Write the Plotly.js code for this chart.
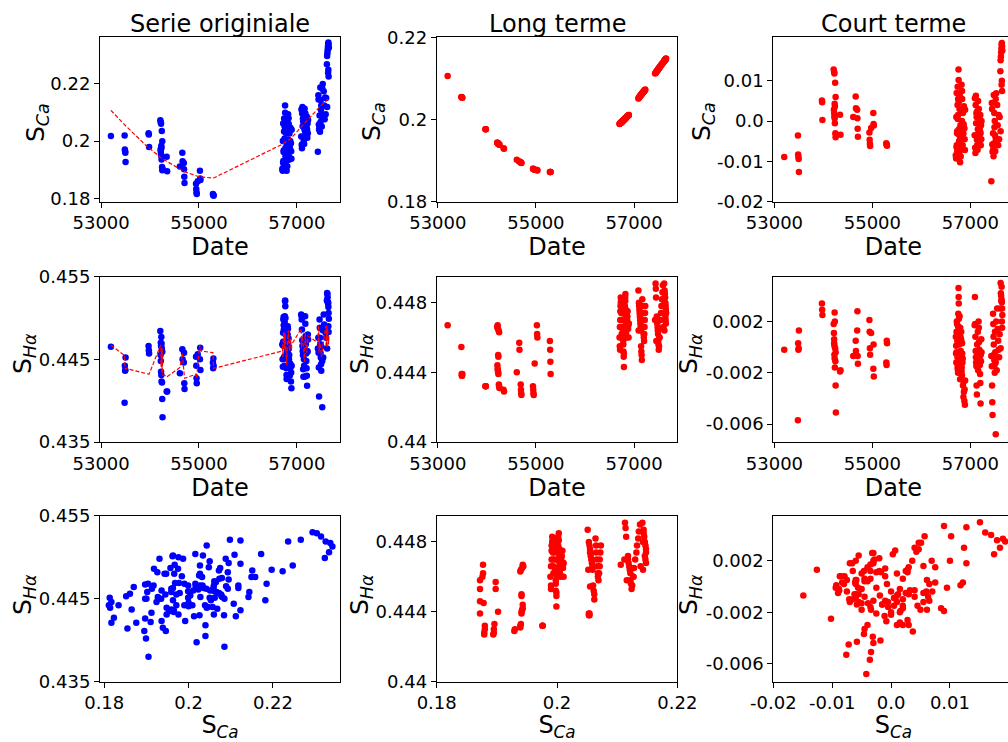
<!DOCTYPE html>
<html><head><meta charset="utf-8">
<script src="https://cdn.plot.ly/plotly-3.0.1.min.js"></script>
<style>html,body{margin:0;padding:0;overflow:hidden;background:#fff}#chart{width:1030px;height:742px}</style>
</head><body><div id="chart"></div>
<script>
// Observation dates (MJD)
const date = [53200,
53480,53485,53490,53495,53500,
53970,53975,53980,
54210,54220,54225,54240,54250,54230,54235,54215,54220,54225,54230,54235,54245,54250,54255,54350,54340,
54610,54660,54665,54690,54695,54700,54705,
54940,54945,54950,54955,54975,55020,55025,55030,
55285,55290,55295,55300,
56705,56710,56715,56720,56725,56730,56735,56740,56745,56750,56755,56760,56762,56765,56768,56770,56775,56780,56785,56790,56795,56800,56805,56810,56815,56820,56825,56830,56835,56840,56850,56860,56870,56880,56890,56895,56712,56722,56732,56742,56752,56772,56782,56792,56812,56822,56832,56845,56865,56885,
57090,57095,57100,57105,57110,57115,57120,57125,57130,57135,57140,57145,57150,57155,57160,57170,57175,57180,57185,57190,57195,57200,57205,57210,57215,57220,57225,57230,
57430,57440,57445,57450,57455,57520,57465,57470,57475,57480,57485,57490,57495,57500,57505,57510,57520,57530,57540,57550,57560,57570,57580,57590,57615,57620,57625,57630,57635,57640,57645,57650,57655,57640,57645,57650,57600,57620];

// Original series
const caOrig = [0.2017,
0.2019,0.1971,0.1965,0.1959,0.1927,
0.2027,0.2023,0.1979,
0.2072,0.2065,0.2060,0.2035,0.1999,0.1984,0.1977,0.1971,0.1963,0.1954,0.1948,0.1936,0.1910,0.1899,0.1905,0.1895,0.1946,
0.1912,0.1959,0.1930,0.1924,0.1902,0.1876,0.1855,
0.1852,0.1834,0.1823,0.1817,0.1861,0.1897,0.1870,0.1865,
0.1817,0.1814,0.1813,0.1811,
0.1904,0.1900,0.2000,0.1926,0.1931,0.1962,0.1918,0.2033,0.1999,0.2009,0.1963,0.2123,0.2098,0.2043,0.1976,0.1947,0.1917,0.2028,0.1948,0.2060,0.1959,0.1990,0.1913,0.1936,0.2027,0.1957,0.1968,0.2004,0.2059,0.1935,0.2026,0.1976,0.2046,0.1992,0.1939,0.2039,0.1897,0.2061,0.1967,0.2078,0.2050,0.2062,0.1943,0.1897,0.1966,0.2093,0.2079,0.1945,0.2000,0.1965,
0.2016,0.2109,0.1987,0.1975,0.2095,0.2118,0.2051,0.2077,0.2068,0.2013,0.1999,0.2085,0.1990,0.2042,0.2112,0.2034,0.2095,0.2025,0.2016,0.2072,0.2053,0.2043,0.2084,0.2040,0.2011,0.2061,0.2027,0.2073,
0.1963,0.2158,0.2144,0.2057,0.2040,0.2085,0.2088,0.2048,0.2032,0.2185,0.2066,0.2142,0.2107,0.2123,0.2089,0.2050,0.2182,0.2197,0.2080,0.2172,0.2123,0.2075,0.2151,0.2093,0.2266,0.2294,0.2304,0.2314,0.2325,0.2336,0.2341,0.2333,0.2323,0.2236,0.2247,0.2223,0.2149,0.2118];

const haOrig = [0.4465,
0.43975,0.4442,0.4436,0.4437,0.4452,
0.4466,0.4461,0.4457,
0.4484,0.4470,0.4466,0.4463,0.4459,0.4477,0.4469,0.4455,0.4448,0.4435,0.4431,0.4423,0.4422,0.4402,0.4380,0.4411,0.4411,
0.4433,0.4462,0.4450,0.4446,0.4458,0.4421,0.4414,
0.4453,0.4442,0.4427,0.4421,0.4456,0.4450,0.4464,0.4437,
0.4446,0.4439,0.4451,0.4442,
0.4468,0.4450,0.4441,0.4482,0.4498,0.4501,0.4486,0.4466,0.4451,0.4442,0.4502,0.4520,0.4521,0.4514,0.4500,0.4480,0.4466,0.4452,0.4439,0.4431,0.4458,0.4468,0.4462,0.4460,0.4490,0.4487,0.4469,0.4454,0.4463,0.4450,0.4430,0.4431,0.4440,0.4423,0.4415,0.4442,0.4467,0.4471,0.4491,0.4453,0.4495,0.4451,0.4480,0.4426,0.4480,0.4462,0.4475,0.4455,0.4445,0.4434,
0.4504,0.4503,0.4498,0.4486,0.4473,0.4466,0.4460,0.4455,0.4438,0.4429,0.4466,0.4450,0.4442,0.4462,0.4429,0.4502,0.4493,0.4478,0.4468,0.4457,0.4448,0.4439,0.4430,0.4418,0.4460,0.4459,0.4480,0.4474,
0.4463,0.4476,0.4458,0.4440,0.4405,0.4392,0.4498,0.4488,0.4476,0.4468,0.4458,0.4452,0.4444,0.4436,0.4465,0.4451,0.4448,0.4485,0.4452,0.4504,0.4492,0.4487,0.4484,0.4482,0.4521,0.4530,0.4529,0.4525,0.4519,0.4517,0.4513,0.4506,0.4499,0.4519,0.4490,0.4483,0.4476,0.4463];

// Long-term component
const caLong = [0.2106,
0.2055,0.2054,0.2054,0.2053,0.2053,
0.1976,0.1976,0.1976,
0.1944,0.1943,0.1942,0.1940,0.1939,0.1941,0.1941,0.1943,0.1943,0.1942,0.1941,0.1941,0.1940,0.1939,0.1939,0.1929,0.1930,
0.1902,0.1898,0.1898,0.1896,0.1895,0.1895,0.1894,
0.1880,0.1880,0.1879,0.1879,0.1878,0.1877,0.1877,0.1876,
0.1872,0.1872,0.1872,0.1872,
0.1989,0.1990,0.1990,0.1991,0.1991,0.1992,0.1993,0.1993,0.1994,0.1994,0.1995,0.1995,0.1996,0.1996,0.1996,0.1997,0.1997,0.1998,0.1998,0.1999,0.1999,0.2000,0.2001,0.2001,0.2002,0.2002,0.2003,0.2004,0.2004,0.2005,0.2006,0.2007,0.2009,0.2010,0.2011,0.2011,0.1990,0.1991,0.1992,0.1993,0.1995,0.1997,0.1998,0.1999,0.2001,0.2003,0.2004,0.2005,0.2008,0.2010,
0.2051,0.2052,0.2053,0.2054,0.2055,0.2055,0.2056,0.2057,0.2058,0.2059,0.2059,0.2060,0.2061,0.2062,0.2062,0.2064,0.2065,0.2065,0.2066,0.2067,0.2068,0.2068,0.2069,0.2070,0.2071,0.2071,0.2072,0.2073,
0.2112,0.2113,0.2114,0.2115,0.2116,0.2127,0.2118,0.2118,0.2119,0.2120,0.2121,0.2122,0.2122,0.2123,0.2124,0.2125,0.2127,0.2128,0.2130,0.2132,0.2133,0.2135,0.2136,0.2138,0.2142,0.2143,0.2144,0.2144,0.2145,0.2146,0.2147,0.2148,0.2148,0.2146,0.2147,0.2148,0.2139,0.2143];

const haLong = [0.4467,
0.44545,0.4439,0.4438,0.4438,0.4439,
0.4432,0.4432,0.4432,
0.4466,0.4467,0.4465,0.4464,0.4463,0.4450,0.4449,0.4444,0.4442,0.4441,0.4440,0.4439,0.4433,0.4432,0.4431,0.4429,0.4430,
0.4440,0.4457,0.4453,0.4433,0.4430,0.4428,0.4427,
0.4432,0.4430,0.4428,0.4427,0.4445,0.4467,0.4462,0.4460,
0.4458,0.4453,0.4446,0.4439,
0.4460,0.4455,0.4453,0.4470,0.4478,0.4483,0.4481,0.4474,0.4466,0.4462,0.4476,0.4474,0.4482,0.4480,0.4478,0.4470,0.4464,0.4458,0.4452,0.4449,0.4443,0.4460,0.4465,0.4470,0.4478,0.4483,0.4485,0.4476,0.4468,0.4462,0.4460,0.4470,0.4475,0.4465,0.4460,0.4468,0.4466,0.4475,0.4480,0.4470,0.4479,0.4462,0.4456,0.4451,0.4474,0.4481,0.4472,0.4464,0.4472,0.4467,
0.4487,0.4464,0.4480,0.4478,0.4476,0.4474,0.4472,0.4470,0.4468,0.4466,0.4464,0.4455,0.4452,0.4450,0.4447,0.4482,0.4478,0.4474,0.4470,0.4466,0.4462,0.4460,0.4458,0.4462,0.4466,0.4470,0.4474,0.4478,
0.4470,0.4491,0.4488,0.4483,0.4458,0.4460,0.4472,0.4470,0.4468,0.4466,0.4464,0.4462,0.4458,0.4456,0.4453,0.4455,0.4460,0.4465,0.4470,0.4474,0.4478,0.4482,0.4486,0.4490,0.4491,0.4480,0.4487,0.4485,0.4483,0.4480,0.4478,0.4476,0.4474,0.4472,0.4470,0.4468,0.4466,0.4464];

// Short-term component
const caShort = [-0.0089,
-0.0036,-0.0083,-0.0089,-0.0094,-0.0126,
0.0051,0.0047,0.0003,
0.0128,0.0122,0.0118,0.0095,0.0060,0.0043,0.0036,0.0028,0.0020,0.0012,0.0007,-0.0005,-0.0030,-0.0040,-0.0034,-0.0034,0.0016,
0.0010,0.0061,0.0032,0.0028,0.0007,-0.0019,-0.0039,
-0.0028,-0.0046,-0.0056,-0.0062,-0.0017,0.0020,-0.0007,-0.0011,
-0.0055,-0.0058,-0.0059,-0.0061,
-0.0085,-0.0090,0.0010,-0.0065,-0.0060,-0.0030,-0.0075,0.0040,0.0005,0.0015,-0.0032,0.0128,0.0102,0.0047,-0.0020,-0.0050,-0.0080,0.0030,-0.0050,0.0061,-0.0040,-0.0010,-0.0088,-0.0065,0.0025,-0.0045,-0.0035,0.0000,0.0055,-0.0070,0.0020,-0.0031,0.0037,-0.0018,-0.0072,0.0028,-0.0093,0.0070,-0.0025,0.0085,0.0055,0.0065,-0.0055,-0.0102,-0.0035,0.0090,0.0075,-0.0060,-0.0008,-0.0045,
-0.0035,0.0057,-0.0066,-0.0079,0.0040,0.0063,-0.0005,0.0020,0.0010,-0.0046,-0.0060,0.0025,-0.0071,-0.0020,0.0050,-0.0030,0.0030,-0.0040,-0.0050,0.0005,-0.0015,-0.0025,0.0015,-0.0030,-0.0060,-0.0010,-0.0045,0.0000,
-0.0149,0.0045,0.0030,-0.0058,-0.0076,-0.0042,-0.0030,-0.0070,-0.0087,0.0065,-0.0055,0.0020,-0.0015,0.0000,-0.0035,-0.0075,0.0055,0.0069,-0.0050,0.0040,-0.0010,-0.0060,0.0015,-0.0045,0.0124,0.0151,0.0160,0.0170,0.0180,0.0190,0.0194,0.0185,0.0175,0.0090,0.0100,0.0075,0.0010,-0.0025];

const haShort = [-0.0002,
-0.0057,0.0003,-0.0002,-0.0001,0.0013,
0.0034,0.0029,0.0025,
0.0018,0.0003,0.0001,-0.0001,-0.0004,0.0027,0.0020,0.0011,0.0006,-0.0006,-0.0009,-0.0016,-0.0011,-0.0030,-0.0051,-0.0018,-0.0019,
-0.0007,0.0005,-0.0003,0.0013,0.0028,-0.0007,-0.0013,
0.0021,0.0012,-0.0001,-0.0006,0.0011,-0.0017,0.0002,-0.0023,
-0.0012,-0.0014,0.0005,0.0003,
0.0008,-0.0005,-0.0012,0.0012,0.0020,0.0018,0.0005,-0.0008,-0.0015,-0.0020,0.0026,0.0046,0.0039,0.0034,0.0022,0.0010,0.0002,-0.0006,-0.0013,-0.0018,0.0015,0.0008,-0.0003,-0.0010,0.0012,0.0004,-0.0016,-0.0022,-0.0005,-0.0012,-0.0030,-0.0039,-0.0035,-0.0042,-0.0045,-0.0026,0.0001,-0.0004,0.0011,-0.0017,0.0016,-0.0011,0.0024,-0.0025,0.0006,-0.0019,0.0003,-0.0009,-0.0027,-0.0033,
0.0017,0.0039,0.0018,0.0008,-0.0003,-0.0008,-0.0012,-0.0015,-0.0030,-0.0037,0.0002,-0.0005,-0.0010,0.0012,-0.0018,0.0020,0.0015,0.0004,-0.0002,-0.0009,-0.0014,-0.0021,-0.0028,-0.0044,-0.0006,-0.0011,0.0006,-0.0004,
-0.0007,-0.0015,-0.0030,-0.0043,-0.0053,-0.0068,0.0026,0.0018,0.0008,0.0002,-0.0006,-0.0010,-0.0014,-0.0020,0.0012,-0.0004,-0.0012,0.0020,-0.0018,0.0030,0.0014,0.0005,-0.0002,-0.0008,0.0030,0.0050,0.0042,0.0040,0.0036,0.0037,0.0035,0.0030,0.0025,0.0047,0.0020,0.0015,0.0010,-0.0001];

// Titles and tick labels
const panelTitles = ["Serie originiale", "Long terme", "Court terme"];
const dateTicks = [53000, 55000, 57000];
const dateTickText = ["53000", "55000", "57000"];
const caTicks = [0.18, 0.2, 0.22];
const caTickText = ["0.18", "0.2", "0.22"];
const caShortTicks = [-0.02, -0.01, 0, 0.01];
const caShortTickText = ["-0.02", "-0.01", "0.0", "0.01"];
const haTicks = [0.435, 0.445, 0.455];
const haTickText = ["0.435", "0.445", "0.455"];
const haLongTicks = [0.44, 0.444, 0.448];
const haLongTickText = ["0.44", "0.444", "0.448"];
const haShortTicks = [-0.006, -0.002, 0.002];
const haShortTickText = ["-0.006", "-0.002", "0.002"];

const LBL_DATE = "Date";
const LBL_CA = "S<sub><i>Ca</i></sub>";
const LBL_HA = "S<sub><i>Hα</i></sub>";
const yTitles = [[LBL_CA, LBL_CA, LBL_CA], [LBL_HA, LBL_HA, LBL_HA], [LBL_HA, LBL_HA, LBL_HA]];

// date order for the trend lines
const order = date.map((d, i) => i).sort((a, b) => date[a] - date[b] || a - b);
const pick = (arr) => order.map(i => arr[i]);

const BLUE = "#0000ff", RED = "#ff0000";
const FONT = "DejaVu Sans, sans-serif";
const MS = 6.5;

function pts(x, y, color, n) {
  return {type: "scatter", mode: "markers", x: x, y: y, xaxis: "x" + (n === 1 ? "" : n), yaxis: "y" + (n === 1 ? "" : n),
    marker: {color: color, size: MS, line: {width: 0}}, hoverinfo: "x+y", showlegend: false};
}
function trend(x, y, n) {
  return {type: "scatter", mode: "lines", x: x, y: y, xaxis: "x" + (n === 1 ? "" : n), yaxis: "y" + (n === 1 ? "" : n),
    line: {color: RED, width: 1.2, dash: "4px,2px"}, hoverinfo: "skip", showlegend: false};
}

const traces = [
  pts(date, caOrig, BLUE, 1), trend(pick(date), pick(caLong), 1),
  pts(date, caLong, RED, 2),
  pts(date, caShort, RED, 3),
  pts(date, haOrig, BLUE, 4), trend(pick(date), pick(haLong), 4),
  pts(date, haLong, RED, 5),
  pts(date, haShort, RED, 6),
  pts(caOrig, haOrig, BLUE, 7),
  pts(caLong, haLong, RED, 8),
  pts(caShort, haShort, RED, 9)
];

const W = 1030, H = 742;
const colPx = [[100, 340], [436.7, 677.3], [773.3, 1013.5]];
const rowPx = [[37.3, 201.7], [276.5, 442], [515.7, 681.7]];
const colDom = colPx.map(c => [c[0] / W, c[1] / W]);
const rowDom = rowPx.map(r => [1 - r[1] / H, 1 - r[0] / H]);
// y-title centres (px) per row / column
const yTitleX = [[37, 373, 703], [24, 361, 690], [24, 361, 690]];
const yTitleY = [122, 354, 595];

function ax(domain, range, tv, tt, anchor, title) {
  return {domain: domain, range: range, tickmode: "array", tickvals: tv, ticktext: tt, anchor: anchor,
    showline: true, mirror: true, linecolor: "#000", linewidth: 1, ticks: "outside", ticklen: 5, tickwidth: 1, tickcolor: "#000",
    showgrid: false, zeroline: false, automargin: false, fixedrange: true,
    tickfont: {family: FONT, size: 18, color: "#000"},
    title: {text: title, font: {family: FONT, size: 24, color: "#000"}, standoff: 4}};
}

const dateRange = [52977, 57883];
const caOrigRange = [0.179, 0.2359];
const caShortRange = [-0.02, 0.0208];
const haShortRange = [-0.0074, 0.0055];
const haLongRange = [0.44, 0.4495];

const annotations = panelTitles.map((t, i) => ({
  text: t, xref: "paper", yref: "paper", x: (colDom[i][0] + colDom[i][1]) / 2, y: rowDom[0][1],
  xanchor: "center", yanchor: "bottom", yshift: -3, showarrow: false,
  font: {family: FONT, size: 24, color: "#000"}
}));
for (let r = 0; r < 3; r++) {
  for (let c = 0; c < 3; c++) {
    annotations.push({text: yTitles[r][c], xref: "paper", yref: "paper", x: yTitleX[r][c] / W, y: 1 - yTitleY[r] / H,
      xanchor: "center", yanchor: "middle", textangle: -90, showarrow: false,
      font: {family: FONT, size: 25, color: "#000"}});
  }
}

const layout = {
  width: W, height: H, margin: {l: 0, r: 0, t: 0, b: 0},
  paper_bgcolor: "#fff", plot_bgcolor: "#fff", showlegend: false,
  font: {family: FONT, color: "#000"},
  xaxis:  ax(colDom[0], dateRange, dateTicks, dateTickText, "y", LBL_DATE),
  yaxis:  ax(rowDom[0], caOrigRange, caTicks, caTickText, "x", ""),
  xaxis2: ax(colDom[1], dateRange, dateTicks, dateTickText, "y2", LBL_DATE),
  yaxis2: ax(rowDom[0], [0.18, 0.22], caTicks, caTickText, "x2", ""),
  xaxis3: ax(colDom[2], dateRange, dateTicks, dateTickText, "y3", LBL_DATE),
  yaxis3: ax(rowDom[0], caShortRange, caShortTicks, caShortTickText, "x3", ""),
  xaxis4: ax(colDom[0], dateRange, dateTicks, dateTickText, "y4", LBL_DATE),
  yaxis4: ax(rowDom[1], [0.435, 0.455], haTicks, haTickText, "x4", ""),
  xaxis5: ax(colDom[1], dateRange, dateTicks, dateTickText, "y5", LBL_DATE),
  yaxis5: ax(rowDom[1], haLongRange, haLongTicks, haLongTickText, "x5", ""),
  xaxis6: ax(colDom[2], dateRange, dateTicks, dateTickText, "y6", LBL_DATE),
  yaxis6: ax(rowDom[1], haShortRange, haShortTicks, haShortTickText, "x6", ""),
  xaxis7: ax(colDom[0], caOrigRange, caTicks, caTickText, "y7", LBL_CA),
  yaxis7: ax(rowDom[2], [0.435, 0.455], haTicks, haTickText, "x7", ""),
  xaxis8: ax(colDom[1], [0.18, 0.22], caTicks, caTickText, "y8", LBL_CA),
  yaxis8: ax(rowDom[2], haLongRange, haLongTicks, haLongTickText, "x8", ""),
  xaxis9: ax(colDom[2], caShortRange, caShortTicks, caShortTickText, "y9", LBL_CA),
  yaxis9: ax(rowDom[2], haShortRange, haShortTicks, haShortTickText, "x9", ""),
  annotations: annotations
};

Plotly.newPlot("chart", traces, layout, {displayModeBar: false, staticPlot: true});
</script>
</body></html>
